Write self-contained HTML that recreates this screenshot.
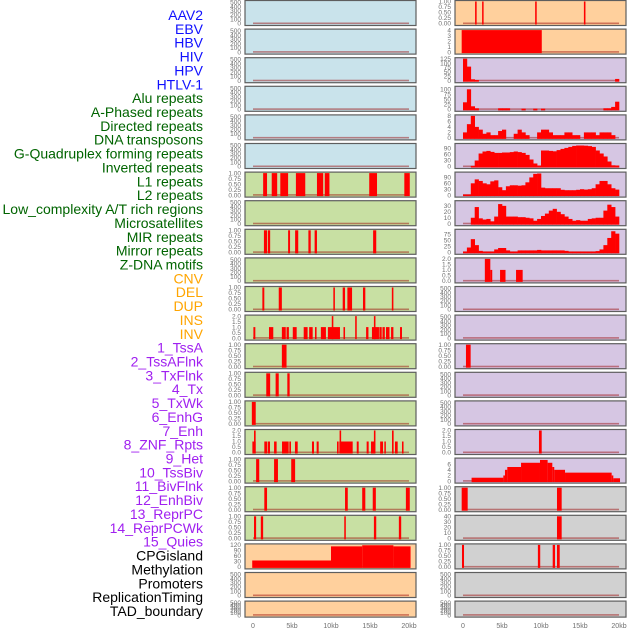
<!DOCTYPE html>
<html><head><meta charset="utf-8"><style>
html,body{margin:0;padding:0;background:#fff;width:630px;height:630px;overflow:hidden}
svg{display:block;font-family:"Liberation Sans",sans-serif}
</style></head><body>
<svg id="chart" width="630" height="630" viewBox="0 0 630 630" xmlns="http://www.w3.org/2000/svg">
<g id="labels"></g>
<g id="panels"></g>
<g id="xaxis"></g>
</svg>
<script>
// ---- track labels ----
const trackLabels = ["AAV2","EBV","HBV","HIV","HPV","HTLV-1","Alu repeats","A-Phased repeats","Directed repeats","DNA transposons","G-Quadruplex forming repeats","Inverted repeats","L1 repeats","L2 repeats","Low_complexity A/T rich regions","Microsatellites","MIR repeats","Mirror repeats","Z-DNA motifs","CNV","DEL","DUP","INS","INV","1_TssA","2_TssAFlnk","3_TxFlnk","4_Tx","5_TxWk","6_EnhG","7_Enh","8_ZNF_Rpts","9_Het","10_TssBiv","11_BivFlnk","12_EnhBiv","13_ReprPC","14_ReprPCWk","15_Quies","CPGisland","Methylation","Promoters","ReplicationTiming","TAD_boundary"];
const labelGroupSizes = [6,13,5,15,5];
const labelGroupColors = ["#1010ff","#006400","#ffa500","#a020f0","#000000"];

// ---- x axis ----
const xTickValues = [0,5,10,15,20];
const xTickLabels = ["0","5kb","10kb","15kb","20kb"];

// ---- y tick sets ----
const ticksEmpty = [0,100,200,300,400,500];
const ticksUnit = [0,0.25,0.5,0.75,1];
const ticksTwo = [0,0.5,1,1.5,2];
const ticksMeth = [0,30,60,90,120];
const ticksFour = [0,1,2,3,4];
const ticks125 = [0,25,50,75,100,125];
const ticks100 = [0,25,50,75,100];
const ticksEight = [0,2,4,6,8];
const ticks90 = [0,30,60,90];
const ticks30 = [0,10,20,30];
const ticks75 = [0,25,50,75];
const ticksSix = [0,2,4,6];
const ticks40 = [0,10,20,30,40];

// ---- segment series [startKb, endKb, value] ----
const segL7 = [[1.3,1.8,1],[2.4,3.1,1],[3.5,4.5,1],[5.5,6.7,1],[8.2,9.0,1],[9.2,9.8,1],[14.9,15.9,1],[19.4,20.1,1]];
const segL9 = [[1.4,1.8,1],[1.9,2.2,1],[4.5,4.75,1],[5.4,5.8,1],[7.1,7.4,1],[7.9,8.2,1],[15.4,15.8,1]];
const segL11 = [[1.2,1.45,1],[3.3,3.7,1],[10.3,10.5,1],[11.5,11.8,1],[12.1,12.7,1],[14.1,14.4,1],[17.8,18.0,1]];
const segL12 = [[0.05,0.3,1],[2.05,2.6,1],[3.7,4.2,1],[4.3,4.6,1],[5.1,5.6,1],[6.5,7.0,1],[7.2,7.65,1],[7.95,8.15,1],[8.7,9.35,1],[9.6,11.15,1],[10.1,10.3,2],[11.6,11.8,1],[13.1,13.3,2],[14.5,14.8,1],[15.25,16.15,1],[15.5,15.7,2],[16.2,16.5,1],[16.6,16.9,1],[17.05,17.5,1],[17.7,18.0,1],[18.85,19.1,1]];
const segL13 = [[3.7,4.3,1]];
const segL14 = [[1.7,2.2,1],[2.9,3.3,1],[4.4,4.7,1]];
const segL15 = [[-0.15,0.35,1]];
const segL16 = [[-0.08,0.34,1],[0.13,0.34,2],[1.45,1.8,1],[1.88,2.18,1],[2.7,3.03,1],[3.72,4.57,1],[4.66,4.87,1],[5.38,5.73,1],[7.56,7.82,1],[8.16,8.42,1],[10.77,10.98,1],[11.07,12.78,1],[11.1,11.3,2],[13.3,13.55,1],[14.57,14.83,1],[15.13,15.64,1],[15.5,15.7,2],[16.3,16.67,1],[16.84,16.97,1],[17.82,18.03,2],[18.2,18.55,1],[19.1,19.3,1]];
const segL17 = [[0.4,0.8,1],[2.7,3.2,1],[4.9,5.4,1]];
const segL18 = [[1.45,1.8,1],[11.8,12.15,1],[14.0,14.4,1],[15.35,15.75,1],[19.6,20.1,1]];
const segL19 = [[0.13,0.4,1],[1.0,1.3,1],[11.7,11.9,1],[15.5,15.8,1],[18.7,19.0,1]];
const segL20 = [[-0.1,10,35],[10,14,112],[14,18,118],[18,20.2,112]];
const segR1 = [[1.55,1.75,1],[2.45,2.6,1],[9.25,9.45,1],[15.5,15.7,1]];
const segR2 = [[-0.17,10.1,4]];
const segR10 = [[2.8,3.5,2],[3.5,3.75,1],[4.75,5.45,1],[6.8,7.65,1]];
const segR13 = [[0.38,0.98,1]];
const segR16 = [[9.74,10.09,2]];
const segR17 = [[1.1,5.17,1.2],[5.17,5.38,2],[5.38,5.68,4],[5.68,7.44,5],[7.44,9.87,6.5],[9.87,10.85,7.5],[10.85,11.45,6.5],[11.45,11.7,5],[11.7,13.08,4],[13.08,19.06,3],[19.06,19.27,2],[19.27,20.13,1]];
const segR18 = [[-0.17,0.6,1],[12.05,12.65,1]];
const segR19 = [[12.05,12.65,42]];
const segR20 = [[-0.13,0.13,1],[9.6,9.9,1],[11.5,11.8,1],[12.05,12.4,1]];

// ---- binned series (0.5kb bins from 0) ----
const binR3 = [125,80,8,4,0,0,0,0,0,0,0,0,0,0,0,0,0,0,0,0,0,0,0,0,0,0,0,0,0,0,0,0,0,0,0,0,0,0,0,10];
const binR4 = [35,100,15,5,0,0,0,0,0,5,5,5,0,0,0,3,0,0,3,0,3,0,0,0,0,0,0,0,0,0,0,0,0,0,0,0,5,5,12,38];
const binR5 = [2,5,8,4,3,1.5,2,1,1,2.5,3,0,0,1.5,3,2,1,0,0,2,3,3,2,1,1,1,2,2,1,1,0,2,2,2,1,2,2,2,1,0];
const binR6 = [0,0,3,30,65,75,78,73,68,68,70,70,72,75,72,68,58,35,15,5,80,80,78,76,82,88,93,98,103,105,105,104,102,98,80,65,50,25,6,5];
const binR7 = [3,3,60,80,72,60,55,70,75,40,25,45,50,50,48,50,65,90,108,110,38,35,35,35,35,27,25,25,25,27,30,28,30,35,55,72,72,55,35,28];
const binR8 = [0,0,10,28,9,7,8,4,12,33,30,12,12,12,11,11,10,9,5,8,13,17,22,25,20,16,12,8,5,6,5,5,8,9,10,10,22,32,28,12];
const binR9 = [3,20,55,30,6,3,3,3,12,18,18,8,3,3,8,8,8,8,8,10,8,8,8,8,8,8,6,3,3,3,3,3,3,3,5,12,30,60,88,78];

const PAL = {blue:"#c9e3eb",green:"#c8e0a3",peach:"#ffd09d",lav:"#d6c6e3",gray:"#d1d1d1"};

// panel specs: [row, col, fill, ymax, ticks, decimals, segments, bins, name]
const panels = [];
function P(row,col,fill,ymax,ticks,dec,seg,bins,name){panels.push({row,col,fill,ymax,ticks,dec,seg,bins,name});}
for(let r=0;r<6;r++) P(r,0,PAL.blue,520,ticksEmpty,0,null,null,"left-track-"+(r+1));
P(6,0,PAL.green,1,ticksUnit,2,segL7,null,"left-track-7");
P(7,0,PAL.green,520,ticksEmpty,0,null,null,"left-track-8");
P(8,0,PAL.green,1,ticksUnit,2,segL9,null,"left-track-9");
P(9,0,PAL.green,520,ticksEmpty,0,null,null,"left-track-10");
P(10,0,PAL.green,1,ticksUnit,2,segL11,null,"left-track-11");
P(11,0,PAL.green,2,ticksTwo,1,segL12,null,"left-track-12");
P(12,0,PAL.green,1,ticksUnit,2,segL13,null,"left-track-13");
P(13,0,PAL.green,1,ticksUnit,2,segL14,null,"left-track-14");
P(14,0,PAL.green,1,ticksUnit,2,segL15,null,"left-track-15");
P(15,0,PAL.green,2,ticksTwo,1,segL16,null,"left-track-16");
P(16,0,PAL.green,1,ticksUnit,2,segL17,null,"left-track-17");
P(17,0,PAL.green,1,ticksUnit,2,segL18,null,"left-track-18");
P(18,0,PAL.green,1,ticksUnit,2,segL19,null,"left-track-19");
P(19,0,PAL.peach,120,ticksMeth,0,segL20,null,"left-track-20");
P(20,0,PAL.peach,520,ticksEmpty,0,null,null,"left-track-21");
P(21,0,PAL.peach,520,ticksEmpty,0,null,null,"left-track-22");
P(0,1,PAL.peach,1,ticksUnit,2,segR1,null,"right-track-1");
P(1,1,PAL.peach,4,ticksFour,0,segR2,null,"right-track-2");
P(2,1,PAL.lav,125,ticks125,0,null,binR3,"right-track-3");
P(3,1,PAL.lav,110,ticks100,0,null,binR4,"right-track-4");
P(4,1,PAL.lav,8,ticksEight,0,null,binR5,"right-track-5");
P(5,1,PAL.lav,110,ticks90,0,null,binR6,"right-track-6");
P(6,1,PAL.lav,112,ticks90,0,null,binR7,"right-track-7");
P(7,1,PAL.lav,37,ticks30,0,null,binR8,"right-track-8");
P(8,1,PAL.lav,92,ticks75,0,null,binR9,"right-track-9");
P(9,1,PAL.lav,2,ticksTwo,1,segR10,null,"right-track-10");
P(10,1,PAL.lav,520,ticksEmpty,0,null,null,"right-track-11");
P(11,1,PAL.lav,520,ticksEmpty,0,null,null,"right-track-12");
P(12,1,PAL.lav,1,ticksUnit,2,segR13,null,"right-track-13");
P(13,1,PAL.lav,520,ticksEmpty,0,null,null,"right-track-14");
P(14,1,PAL.lav,520,ticksEmpty,0,null,null,"right-track-15");
P(15,1,PAL.lav,2,ticksTwo,1,segR16,null,"right-track-16");
P(16,1,PAL.lav,7.8,ticksSix,0,segR17,null,"right-track-17");
P(17,1,PAL.gray,1,ticksUnit,2,segR18,null,"right-track-18");
P(18,1,PAL.gray,40,ticks40,0,segR19,null,"right-track-19");
P(19,1,PAL.gray,1,ticksUnit,2,segR20,null,"right-track-20");
P(20,1,PAL.gray,520,ticksEmpty,0,null,null,"right-track-21");
P(21,1,PAL.gray,520,ticksEmpty,0,null,null,"right-track-22");

const NS="http://www.w3.org/2000/svg";
function mk(tag,attrs,parent){const e=document.createElementNS(NS,tag);for(const k in attrs)e.setAttribute(k,attrs[k]);parent.appendChild(e);return e;}
function xScale(col,kb){return (col?463:253)+kb*7.8;}
function rowTop(r){return 0.5+r*28.6;}
function rowH(r){return r===21?16:25;}

// labels
const gL=document.getElementById('labels');
let li=0;
labelGroupSizes.forEach((n,g)=>{for(let k=0;k<n;k++){
  const t=mk('text',{x:203,y:15+li*13.86+5,'text-anchor':'end','font-size':14,fill:labelGroupColors[g]},gL);
  t.textContent=trackLabels[li];
  
  
  li++;}});

// panels
const gP=document.getElementById('panels');
panels.forEach(p=>{
  const top=rowTop(p.row),h=rowH(p.row);
  const left=p.col?455:245,w=171;
  const g=mk('g',{},gP);
  
  
  const bg=mk('rect',{x:left,y:top,width:w,height:h,fill:p.fill,stroke:'#5e5e5e','stroke-width':1.2},g);
  
  
  const y0=top+h-2, yr=h-3;
  const yS=v=>y0-Math.min(v,p.ymax)/p.ymax*yr;
  // ticks
  p.ticks.forEach(v=>{
    const t=mk('text',{x:left-4,y:yS(v)+2.2,'text-anchor':'end','font-size':6.5,fill:'#707070'},g);
    t.textContent=v.toFixed(p.dec);
    
    
  });
  // baseline
  const bl=mk('rect',{x:xScale(p.col,0),y:y0-1,width:xScale(p.col,20)-xScale(p.col,0),height:1.6,fill:'rgba(150,0,0,0.45)'},g);
  
  
  if(p.seg){p.seg.forEach(s=>{
    const x1=xScale(p.col,s[0]),x2=xScale(p.col,s[1]);
    const r=mk('rect',{x:x1,y:yS(s[2]),width:Math.max(1.5,x2-x1),height:y0-yS(s[2])+1,fill:'#ff0000'},g);
    
    
  });}
  if(p.bins){p.bins.forEach((v,i)=>{
    if(v<=0)return;
    const x1=xScale(p.col,i*0.5),x2=xScale(p.col,i*0.5+0.5);
    const r=mk('rect',{x:x1,y:yS(v),width:x2-x1+0.3,height:y0-yS(v)+1,fill:'#ff0000'},g);
    
    
  });}
});

// x axis
const gX=document.getElementById('xaxis');
[0,1].forEach(col=>{xTickValues.forEach((v,i)=>{
  const t=mk('text',{x:xScale(col,v),y:628,'text-anchor':'middle','font-size':7,fill:'#707070'},gX);
  t.textContent=xTickLabels[i];
  
  
});});
</script>
</body></html>
